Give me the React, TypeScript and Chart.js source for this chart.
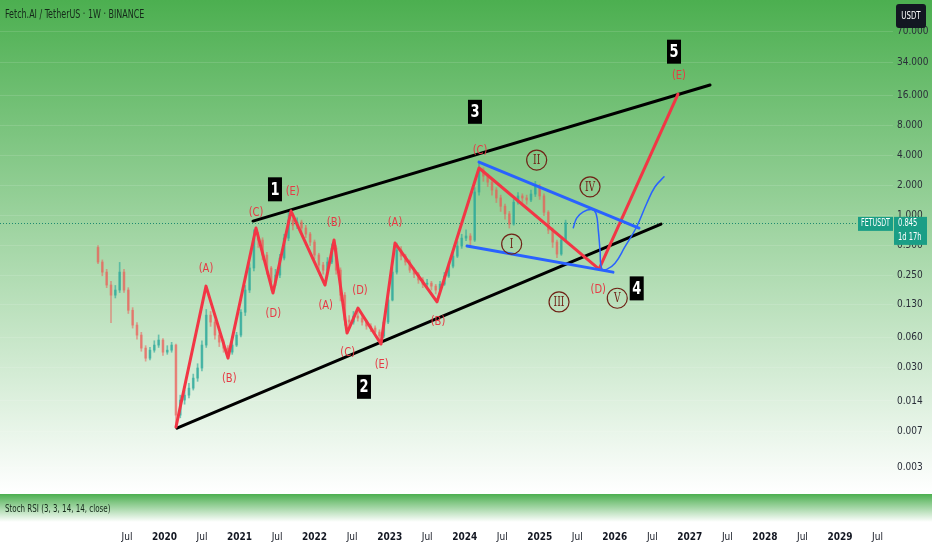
import React, { useEffect, useRef } from 'react';
import { Chart, registerables } from 'chart.js';

Chart.register(...registerables);

const FONT = "'DejaVu Sans Condensed', 'Liberation Sans Narrow', 'DejaVu Sans', sans-serif";

const TITLE = 'Fetch.AI / TetherUS · 1W · BINANCE';
const INDICATOR = 'Stoch RSI (3, 3, 14, 14, close)';
const SYMBOL = 'FETUSDT';
const CURRENCY = 'USDT';
const LAST_PRICE = 0.845;
const LAST_PRICE_TEXT = '0.845';
const COUNTDOWN = '1d 17h';

// axis ranges (time in decimal years, price log scale)
const X_MIN = 2017.808;
const X_MAX = 2029.707;
const Y_MIN = 0.000863;
const Y_MAX = 143;

const X_TICKS = [
  2019.5, 2020, 2020.5, 2021, 2021.5, 2022, 2022.5, 2023, 2023.5, 2024, 2024.5,
  2025, 2025.5, 2026, 2026.5, 2027, 2027.5, 2028, 2028.5, 2029, 2029.5,
];
const Y_TICKS = [70, 34, 16, 8, 4, 2, 1, 0.5, 0.25, 0.13, 0.06, 0.03, 0.014, 0.007, 0.003];

// price candles (3-week sampling)
const CANDLE_START = 2019.114;
const CANDLE_STEP = 3 / 52;
const FIRST_OPEN = 0.48;
const CLOSES = [
  0.343, 0.272, 0.202, 0.160, 0.180, 0.272, 0.180, 0.113, 0.0803, 0.0638,
  0.0473, 0.0375, 0.0451, 0.0507, 0.0569, 0.0431, 0.0451, 0.0507, 0.0101, 0.0143,
  0.0160, 0.0188, 0.0237, 0.0299, 0.0507, 0.101, 0.0861, 0.0638, 0.0543, 0.0473,
  0.0431, 0.0507, 0.0638, 0.108, 0.180, 0.299, 0.595, 0.569, 0.403, 0.299,
  0.216, 0.254, 0.376, 0.595, 0.90, 0.80, 0.86, 0.75, 0.653, 0.543,
  0.403, 0.320, 0.285, 0.343, 0.473, 0.285, 0.160, 0.0902, 0.0861, 0.0989,
  0.0944, 0.0861, 0.0785, 0.0750, 0.0684, 0.0624, 0.0861, 0.143, 0.272, 0.452,
  0.393, 0.343, 0.285, 0.260, 0.227, 0.206, 0.211, 0.197, 0.180, 0.206,
  0.248, 0.312, 0.393, 0.496, 0.595, 0.624, 0.569, 1.72, 2.85, 2.48,
  2.16, 1.80, 1.50, 1.24, 1.04, 0.822, 1.36, 1.57, 1.50, 1.43,
  1.64, 1.97, 1.57, 1.08, 0.716, 0.543, 0.412, 0.569, 0.845,
];
const HIGHS = [
  0.50, 0.36, 0.29, 0.22, 0.20, 0.34, 0.29, 0.19, 0.12, 0.085,
  0.068, 0.050, 0.048, 0.056, 0.064, 0.059, 0.050, 0.054, 0.052, 0.016,
  0.018, 0.021, 0.026, 0.033, 0.056, 0.115, 0.110, 0.090, 0.068, 0.057,
  0.050, 0.054, 0.068, 0.115, 0.20, 0.33, 0.72, 0.68, 0.60, 0.43,
  0.31, 0.29, 0.41, 0.65, 1.08, 0.98, 0.95, 0.90, 0.80, 0.68,
  0.57, 0.42, 0.34, 0.38, 0.52, 0.50, 0.30, 0.17, 0.10, 0.11,
  0.108, 0.10, 0.090, 0.083, 0.079, 0.072, 0.093, 0.16, 0.30, 0.53,
  0.49, 0.41, 0.36, 0.30, 0.27, 0.24, 0.23, 0.22, 0.205, 0.22,
  0.27, 0.34, 0.43, 0.55, 0.65, 0.72, 0.66, 1.90, 3.30, 3.00,
  2.60, 2.30, 1.90, 1.60, 1.30, 1.10, 1.45, 1.70, 1.65, 1.60,
  1.80, 2.20, 2.05, 1.65, 1.12, 0.75, 0.57, 0.62, 0.90,
];
const LOWS = [
  0.33, 0.25, 0.19, 0.085, 0.15, 0.17, 0.17, 0.105, 0.075, 0.058,
  0.044, 0.035, 0.036, 0.043, 0.048, 0.040, 0.041, 0.043, 0.0077, 0.0095,
  0.013, 0.015, 0.018, 0.022, 0.028, 0.048, 0.078, 0.058, 0.049, 0.043,
  0.039, 0.041, 0.049, 0.061, 0.10, 0.17, 0.28, 0.48, 0.36, 0.26,
  0.18, 0.20, 0.24, 0.36, 0.56, 0.72, 0.74, 0.68, 0.60, 0.50,
  0.37, 0.29, 0.26, 0.27, 0.33, 0.26, 0.14, 0.080, 0.075, 0.082,
  0.088, 0.080, 0.073, 0.069, 0.063, 0.057, 0.060, 0.083, 0.14, 0.26,
  0.36, 0.32, 0.27, 0.24, 0.21, 0.19, 0.195, 0.18, 0.165, 0.17,
  0.20, 0.24, 0.30, 0.38, 0.47, 0.56, 0.50, 0.55, 1.60, 2.20,
  1.95, 1.60, 1.35, 1.10, 0.92, 0.75, 0.80, 1.30, 1.35, 1.30,
  1.38, 1.55, 1.45, 1.00, 0.66, 0.48, 0.38, 0.40, 0.55,
];

// red Elliott wave path
const WAVE_X = [
  2020.153, 2020.553, 2020.846, 2021.219, 2021.446, 2021.686, 2022.139, 2022.259,
  2022.432, 2022.578, 2022.885, 2023.072, 2023.631, 2024.191, 2025.790, 2026.842,
];
const WAVE_Y = [
  0.0077, 0.197, 0.0375, 0.75, 0.168, 1.11, 0.202, 0.569,
  0.0668, 0.119, 0.0519, 0.531, 0.137, 2.99, 0.292, 16.4,
];

// black channel
const UPPER_LINE_X = [2021.179, 2027.269];
const UPPER_LINE_Y = [0.881, 20.2];
const LOWER_LINE_X = [2020.166, 2026.616];
const LOWER_LINE_Y = [0.0075, 0.822];

// blue wedge
const BLUE_TOP_X = [2024.191, 2026.322];
const BLUE_TOP_Y = [3.43, 0.75];
const BLUE_BOTTOM_X = [2024.031, 2025.976];
const BLUE_BOTTOM_Y = [0.496, 0.272];

// hand-drawn projection
const PATH_X = [
  2025.447, 2025.492, 2025.580, 2025.692, 2025.750, 2025.780, 2025.803, 2025.825,
  2025.892, 2026.003, 2026.136, 2026.292, 2026.425, 2026.536, 2026.656,
];
const PATH_Y = [
  0.755, 0.944, 1.09, 1.15, 1.05, 0.716, 0.452, 0.296,
  0.290, 0.333, 0.488, 0.773, 1.32, 1.94, 2.44,
];

// labels
const WAVE_LABELS = ['(A)', '(B)', '(C)', '(D)', '(E)', '(B)', '(A)', '(D)', '(C)', '(E)', '(A)', '(B)', '(C)', '(D)', '(E)'];
const WAVE_LABEL_X = [2020.553, 2020.863, 2021.219, 2021.450, 2021.708, 2022.259, 2022.148, 2022.605, 2022.441, 2022.894, 2023.071, 2023.644, 2024.204, 2025.780, 2026.855];
const WAVE_LABEL_Y = [0.296, 0.0235, 1.07, 0.1035, 1.73, 0.847, 0.1246, 0.177, 0.0428, 0.0320, 0.841, 0.0861, 4.42, 0.183, 24.8];

const DEGREE_LABELS = ['1', '2', '3', '4', '5'];
const DEGREE_X = [2021.472, 2022.658, 2024.137, 2026.292, 2026.789];
const DEGREE_Y = [1.83, 0.0194, 10.9, 0.187, 43.5];

const ROMAN_LABELS = ['I', 'II', 'III', 'IV', 'V'];
const ROMAN_X = [2024.626, 2024.959, 2025.257, 2025.670, 2026.033];
const ROMAN_Y = [0.519, 3.59, 0.137, 1.94, 0.149];

// styles
const TOP_GREEN = '#4caf50';
const UP = 'rgba(38,166,154,0.6)';
const DOWN = 'rgba(239,83,80,0.5)';
const RED = '#f23645';
const BLUE = '#2962ff';
const LABEL_RED = '#e63a45';
const ROMAN_COLOR = '#6f2216';
const TEAL = '#1a9e86';
const RSI_H = 29;

const pts = (xs: number[], ys: number[]) => xs.map((x, i) => ({ x, y: ys[i] }));

function squeezed(ctx: CanvasRenderingContext2D, text: string, x: number, y: number, sx: number) {
  ctx.save();
  ctx.translate(x, y);
  ctx.scale(sx, 1);
  ctx.fillText(text, 0, 0);
  ctx.restore();
}

const decor = {
  id: 'decor',
  beforeDraw(chart: any) {
    const { ctx, chartArea: a, width, height } = chart;
    const paneBottom = a.bottom - RSI_H;
    ctx.save();
    ctx.fillStyle = '#ffffff';
    ctx.fillRect(0, 0, width, height);
    let g = ctx.createLinearGradient(0, a.top, 0, paneBottom);
    g.addColorStop(0, TOP_GREEN);
    g.addColorStop(1, '#ffffff');
    ctx.fillStyle = g;
    ctx.fillRect(0, a.top, width, paneBottom - a.top);
    g = ctx.createLinearGradient(0, paneBottom + 1, 0, a.bottom);
    g.addColorStop(0, TOP_GREEN);
    g.addColorStop(1, '#ffffff');
    ctx.fillStyle = g;
    ctx.fillRect(0, paneBottom + 1, width, a.bottom - paneBottom - 1);
    ctx.restore();
  },
  beforeDatasetsDraw(chart: any) {
    const { ctx, chartArea: a, scales } = chart;
    const y = Math.round(scales.y.getPixelForValue(LAST_PRICE)) + 0.5;
    ctx.save();
    ctx.strokeStyle = 'rgba(0,120,100,0.8)';
    ctx.lineWidth = 1;
    ctx.setLineDash([1, 2]);
    ctx.beginPath();
    ctx.moveTo(a.left, y);
    ctx.lineTo(a.right, y);
    ctx.stroke();
    ctx.restore();
  },
  afterDatasetsDraw(chart: any) {
    const { ctx, scales } = chart;
    const sx = scales.x, sy = scales.y;
    ctx.save();
    ctx.textAlign = 'center';
    ctx.textBaseline = 'middle';
    ctx.font = `13px ${FONT}`;
    ctx.fillStyle = LABEL_RED;
    WAVE_LABELS.forEach((t, i) => {
      squeezed(ctx, t, sx.getPixelForValue(WAVE_LABEL_X[i]), sy.getPixelForValue(WAVE_LABEL_Y[i]), 0.85);
    });
    ctx.font = `12px 'DejaVu Serif Condensed', 'DejaVu Serif', serif`;
    ctx.fillStyle = ROMAN_COLOR;
    ROMAN_LABELS.forEach((t, i) => {
      squeezed(ctx, t, sx.getPixelForValue(ROMAN_X[i]), sy.getPixelForValue(ROMAN_Y[i]) + 1, 0.85);
    });
    ctx.font = `bold 17px ${FONT}`;
    DEGREE_LABELS.forEach((t, i) => {
      const x = sx.getPixelForValue(DEGREE_X[i]);
      const y = sy.getPixelForValue(DEGREE_Y[i]);
      ctx.fillStyle = '#000000';
      ctx.fillRect(x - 7, y - 12, 14, 24);
      ctx.fillStyle = '#ffffff';
      squeezed(ctx, t, x, y + 1, 0.85);
    });
    ctx.restore();
  },
  afterDraw(chart: any) {
    const { ctx, chartArea: a, scales } = chart;
    const paneBottom = a.bottom - RSI_H;
    ctx.save();
    ctx.textBaseline = 'middle';
    ctx.textAlign = 'left';
    ctx.fillStyle = '#15291a';
    ctx.font = `12px ${FONT}`;
    squeezed(ctx, TITLE, 5, 15, 0.74);
    ctx.font = `11px ${FONT}`;
    squeezed(ctx, INDICATOR, 5, paneBottom + 16, 0.72);

    // currency badge
    ctx.fillStyle = '#131722';
    ctx.beginPath();
    ctx.roundRect(896, 4, 30, 24, 3);
    ctx.fill();
    ctx.fillStyle = '#ffffff';
    ctx.textAlign = 'center';
    ctx.font = `10px ${FONT}`;
    squeezed(ctx, CURRENCY, 911, 16, 0.78);

    // last price badges
    const py = scales.y.getPixelForValue(LAST_PRICE);
    ctx.fillStyle = TEAL;
    ctx.fillRect(a.right - 35, py - 6, 35, 14);
    ctx.fillRect(a.right + 1, py - 6, 33, 28);
    ctx.fillStyle = '#ffffff';
    ctx.font = `10px ${FONT}`;
    squeezed(ctx, SYMBOL, a.right - 17.5, py + 1, 0.7);
    ctx.textAlign = 'left';
    squeezed(ctx, LAST_PRICE_TEXT, a.right + 5, py + 1, 0.75);
    squeezed(ctx, COUNTDOWN, a.right + 5, py + 15, 0.75);
    ctx.restore();
  },
};

export default function App() {
  const ref = useRef<HTMLCanvasElement>(null);
  useEffect(() => {
    const canvas = ref.current!;
    const opens = CLOSES.map((c, i) => (i === 0 ? FIRST_OPEN : CLOSES[i - 1]));
    const xs = CLOSES.map((_, i) => CANDLE_START + i * CANDLE_STEP);
    const candleData = CLOSES.map((c, i) => ({ x: xs[i], y: [opens[i], c] }));
    const wickData = CLOSES.map((_, i) => ({ x: xs[i], y: [LOWS[i], HIGHS[i]] }));
    const candleColors = CLOSES.map((c, i) => (c >= opens[i] ? UP : DOWN));
    const line = (data: any[], color: string, width: number, order: number, tension = 0) => ({
      type: 'line',
      data,
      borderColor: color,
      borderWidth: width,
      pointRadius: 0,
      fill: false,
      tension,
      order,
      borderCapStyle: 'round',
      borderJoinStyle: 'round',
    });
    const chart = new Chart(canvas, {
      type: 'bar',
      data: {
        datasets: [
          {
            type: 'bar',
            data: wickData,
            backgroundColor: candleColors,
            barThickness: 1,
            grouped: false,
            order: 11,
          } as any,
          {
            type: 'bar',
            data: candleData,
            backgroundColor: candleColors,
            barThickness: 2,
            grouped: false,
            order: 10,
          } as any,
          line(pts(LOWER_LINE_X, LOWER_LINE_Y), '#000000', 3, 6),
          line(pts(UPPER_LINE_X, UPPER_LINE_Y), '#000000', 3, 6),
          line(pts(WAVE_X, WAVE_Y), RED, 3, 5),
          line(pts(BLUE_TOP_X, BLUE_TOP_Y), BLUE, 3, 4),
          line(pts(BLUE_BOTTOM_X, BLUE_BOTTOM_Y), BLUE, 3, 4),
          line(pts(PATH_X, PATH_Y), BLUE, 1.5, 3, 0.4),
          {
            type: 'scatter',
            data: pts(ROMAN_X, ROMAN_Y),
            pointRadius: 10,
            pointBorderWidth: 1.2,
            pointBorderColor: ROMAN_COLOR,
            pointBackgroundColor: 'rgba(0,0,0,0)',
            order: 1,
          } as any,
        ] as any,
      },
      options: {
        animation: false,
        responsive: false,
        devicePixelRatio: 1,
        events: [],
        layout: { padding: 0, autoPadding: false },
        plugins: { legend: { display: false }, tooltip: { enabled: false } },
        scales: {
          x: {
            type: 'linear',
            min: X_MIN,
            max: X_MAX,
            offset: false,
            grid: { display: false, drawTicks: false },
            border: { display: false },
            afterBuildTicks: (s: any) => {
              s.ticks = X_TICKS.map((v) => ({ value: v }));
            },
            afterFit: (s: any) => {
              s.height = 28;
              s.paddingLeft = 0;
              s.paddingRight = 0;
            },
            ticks: {
              autoSkip: false,
              maxRotation: 0,
              padding: 9,
              color: '#131722',
              font: (c: any) => ({
                family: FONT,
                size: 10,
                weight: c.tick && Number.isInteger(c.tick.value) ? 'bold' : 'normal',
              }),
              callback: (v: any) => (Number.isInteger(Number(v)) ? String(v) : 'Jul'),
            },
          },
          y: {
            type: 'logarithmic',
            position: 'right',
            min: Y_MIN,
            max: Y_MAX,
            grid: { color: 'rgba(255,255,255,0.12)', drawTicks: false },
            border: { display: false },
            afterBuildTicks: (s: any) => {
              s.ticks = Y_TICKS.map((v) => ({ value: v }));
            },
            afterFit: (s: any) => {
              s.width = 39;
              s.paddingTop = 0;
              s.paddingBottom = 0;
            },
            ticks: {
              autoSkip: false,
              padding: 4,
              color: '#2a2e39',
              font: { family: FONT, size: 10 },
              callback: (v: any) => Number(v).toFixed(3),
            },
          },
        },
      } as any,
      plugins: [decor],
    });
    return () => chart.destroy();
  }, []);
  return (
    <div style={{ position: 'fixed', left: 0, top: 0, width: 932, height: 550 }}>
      <canvas ref={ref} width={932} height={550} style={{ display: 'block', width: 932, height: 550 }} />
    </div>
  );
}
